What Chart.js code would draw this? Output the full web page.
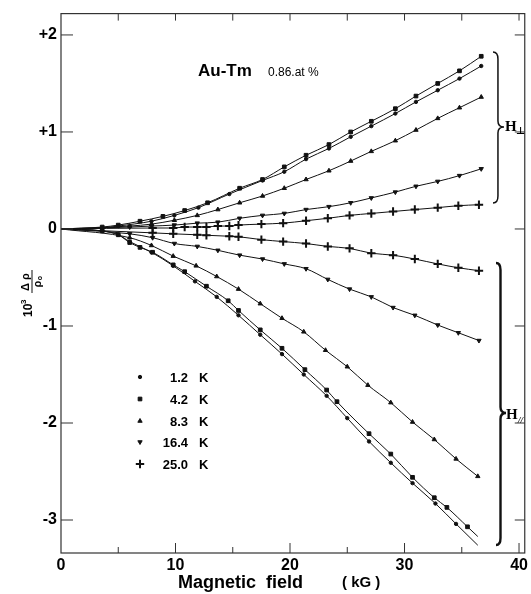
<!DOCTYPE html>
<html><head><meta charset="utf-8">
<script src="https://cdn.jsdelivr.net/npm/chart.js@4/dist/chart.umd.min.js"></script>
<style>html,body{margin:0;padding:0;background:#fff}</style>
</head><body>
<canvas id="c" width="531" height="594"></canvas>
<script>
// ---- data (field in kG, 10^3 Δρ/ρ0) ----
const temperatures = ['1.2', '4.2', '8.3', '16.4', '25.0'];
const xTickValues = [0, 10, 20, 30, 40];
const yTickValues = [-3, -2, -1, 0, 1, 2];

// H perpendicular
const perp12Field = [0, 3.6, 5.0, 7.9, 9.9, 12.0, 14.7, 17.6, 19.5, 21.4, 23.4, 25.3, 27.1, 29.2, 31.0, 32.9, 34.8, 36.7];
const perp12Rho   = [0, 0.01, 0.03, 0.08, 0.14, 0.22, 0.36, 0.50, 0.59, 0.72, 0.83, 0.95, 1.06, 1.19, 1.31, 1.43, 1.55, 1.68];
const perp42Field = [0, 3.6, 5.0, 6.9, 8.9, 10.8, 12.8, 15.6, 17.6, 19.5, 21.4, 23.4, 25.3, 27.1, 29.2, 31.0, 32.9, 34.8, 36.7];
const perp42Rho   = [0, 0.02, 0.04, 0.08, 0.13, 0.19, 0.27, 0.42, 0.51, 0.64, 0.76, 0.87, 1.00, 1.11, 1.24, 1.37, 1.50, 1.63, 1.78];
const perp83Field = [0, 6.0, 7.9, 9.9, 11.9, 13.7, 15.6, 17.6, 19.5, 21.4, 23.4, 25.3, 27.1, 29.2, 31.0, 32.9, 34.8, 36.7];
const perp83Rho   = [0, 0.03, 0.05, 0.09, 0.14, 0.20, 0.27, 0.34, 0.42, 0.51, 0.60, 0.70, 0.80, 0.91, 1.02, 1.14, 1.25, 1.36];
const perp164Field = [0, 6.0, 7.9, 9.9, 11.9, 13.7, 15.6, 17.6, 19.5, 21.4, 23.4, 25.3, 27.1, 29.2, 31.0, 32.9, 34.8, 36.7];
const perp164Rho   = [0, 0.02, 0.03, 0.04, 0.06, 0.07, 0.11, 0.14, 0.16, 0.20, 0.23, 0.27, 0.32, 0.38, 0.44, 0.49, 0.55, 0.62];
const perp250Field = [0, 8.0, 9.8, 10.8, 11.9, 12.7, 13.7, 14.7, 15.5, 17.5, 19.4, 21.4, 23.3, 25.2, 27.1, 29.0, 30.9, 32.9, 34.7, 36.5];
const perp250Rho   = [0, 0.01, 0.01, 0.02, 0.02, 0.02, 0.03, 0.03, 0.04, 0.05, 0.06, 0.085, 0.11, 0.14, 0.16, 0.18, 0.20, 0.22, 0.24, 0.25];

// H parallel
const par12Field = [0, 3.6, 5.0, 6.0, 7.9, 9.8, 11.7, 13.6, 15.5, 17.4, 19.3, 21.2, 23.2, 25.0, 26.9, 28.8, 30.7, 32.7, 34.5, 36.4];
const par12Rho   = [0, -0.02, -0.06, -0.13, -0.24, -0.38, -0.54, -0.70, -0.89, -1.09, -1.29, -1.50, -1.72, -1.95, -2.19, -2.41, -2.62, -2.83, -3.04, -3.26];
const par42Field = [0, 3.6, 5.0, 6.0, 6.9, 8.0, 9.8, 10.8, 12.7, 14.6, 15.5, 17.4, 19.3, 21.3, 23.2, 24.1, 26.9, 28.8, 30.7, 32.6, 33.7, 35.5, 36.4];
const par42Rho   = [0, -0.02, -0.06, -0.14, -0.19, -0.24, -0.37, -0.44, -0.59, -0.74, -0.84, -1.04, -1.23, -1.45, -1.66, -1.78, -2.11, -2.32, -2.56, -2.77, -2.87, -3.07, -3.17];
const par83Field = [0, 6.0, 7.9, 9.8, 11.8, 13.6, 15.5, 17.4, 19.3, 21.2, 23.1, 25.0, 26.8, 28.8, 30.7, 32.6, 34.5, 36.4];
const par83Rho   = [0, -0.09, -0.17, -0.28, -0.38, -0.49, -0.62, -0.77, -0.92, -1.06, -1.25, -1.42, -1.61, -1.79, -1.99, -2.17, -2.37, -2.55];
const par164Field = [0, 6.0, 8.0, 9.9, 11.9, 13.7, 15.6, 17.6, 19.5, 21.4, 23.3, 25.2, 27.1, 29.0, 30.9, 32.9, 34.7, 36.5];
const par164Rho   = [0, -0.05, -0.09, -0.15, -0.18, -0.22, -0.27, -0.31, -0.36, -0.41, -0.52, -0.62, -0.70, -0.81, -0.89, -0.99, -1.07, -1.15];
const par250Field = [0, 8.0, 9.8, 11.9, 12.7, 14.7, 15.5, 17.5, 19.4, 21.4, 23.3, 25.2, 27.1, 29.0, 30.9, 32.9, 34.7, 36.5];
const par250Rho   = [0, -0.04, -0.05, -0.06, -0.065, -0.075, -0.08, -0.11, -0.13, -0.15, -0.18, -0.20, -0.25, -0.27, -0.31, -0.36, -0.40, -0.43];

// ---- styles ----
const markerStyles = [
  {pointStyle: 'circle', radius: 1.7, rotation: 0, border: 1},
  {pointStyle: 'rect', radius: 2.6, rotation: 0, border: 1},
  {pointStyle: 'triangle', radius: 2.5, rotation: 0, border: 1},
  {pointStyle: 'triangle', radius: 2.5, rotation: 180, border: 1},
  {pointStyle: 'cross', radius: 4.2, rotation: 0, border: 2}
];

function zip(xs, ys) { return xs.map((x, i) => ({x: x, y: ys[i]})); }

const seriesDefs = [
  [perp12Field, perp12Rho, 0, false], [perp42Field, perp42Rho, 1, false], [perp83Field, perp83Rho, 2, false],
  [perp164Field, perp164Rho, 3, false], [perp250Field, perp250Rho, 4, false],
  [par12Field, par12Rho, 0, true], [par42Field, par42Rho, 1, true], [par83Field, par83Rho, 2, false],
  [par164Field, par164Rho, 3, false], [par250Field, par250Rho, 4, false]
];

const datasets = seriesDefs.map(([xs, ys, ti, hideLast]) => {
  const m = markerStyles[ti];
  const n = xs.length;
  return {
    label: temperatures[ti] + ' K',
    data: zip(xs, ys),
    borderColor: '#111',
    backgroundColor: '#111',
    borderWidth: 1,
    cubicInterpolationMode: 'monotone',
    pointStyle: m.pointStyle,
    pointRotation: m.rotation,
    pointBorderWidth: m.border,
    pointBorderColor: '#111',
    pointBackgroundColor: '#111',
    pointRadius: ctx => (ctx.dataIndex === 0 || (hideLast && ctx.dataIndex === n - 1)) ? 0 : m.radius,
    clip: false
  };
});

const FONT = "'Liberation Sans', Arial, sans-serif";

const decorations = {
  id: 'decorations',
  afterDraw(chart) {
    const ctx = chart.ctx;
    const a = chart.chartArea;
    const xs = chart.scales.x, ys = chart.scales.y;
    ctx.save();
    // frame
    ctx.strokeStyle = '#333';
    ctx.lineWidth = 1.2;
    ctx.strokeRect(a.left, a.top, a.right - a.left, a.bottom - a.top);
    // inner ticks
    ctx.lineWidth = 1;
    ctx.beginPath();
    for (let v = 5; v <= 40; v += 5) {
      const px = xs.getPixelForValue(v);
      const len = v % 10 === 0 ? 10 : 6;
      ctx.moveTo(px, a.bottom); ctx.lineTo(px, a.bottom - len);
      ctx.moveTo(px, a.top); ctx.lineTo(px, a.top + 7);
    }
    yTickValues.forEach(v => {
      const py = ys.getPixelForValue(v);
      ctx.moveTo(a.left, py); ctx.lineTo(a.left + 12, py);
      ctx.moveTo(a.right, py); ctx.lineTo(a.right - 10, py);
    });
    ctx.stroke();

    ctx.fillStyle = '#000';
    ctx.textBaseline = 'alphabetic';
    // title annotation
    ctx.font = "bold 17px " + FONT;
    ctx.textAlign = 'left';
    ctx.fillText('Au-Tm', 198, 76);
    ctx.font = "12px " + FONT;
    ctx.fillText('0.86.at %', 268, 76);

    // legend
    const rows = [377, 399, 421, 442, 464];
    rows.forEach((ry, i) => {
      const m = markerStyles[i];
      ctx.lineWidth = m.border;
      ctx.strokeStyle = '#111';
      ctx.fillStyle = '#111';
      Chart.helpers.drawPoint(ctx, {pointStyle: m.pointStyle, radius: m.radius, rotation: m.rotation, borderWidth: m.border}, 140, ry);
      ctx.fillStyle = '#000';
      ctx.font = "bold 13px " + FONT;
      ctx.textAlign = 'right';
      ctx.fillText(temperatures[i], 188, ry + 5);
      ctx.textAlign = 'left';
      ctx.fillText('K', 199, ry + 5);
    });

    // braces
    function brace(x0, top, bottom, tipY, w, lw) {
      ctx.beginPath();
      ctx.lineWidth = lw;
      ctx.strokeStyle = '#111';
      const xm = x0 + w * 0.45, xt = x0 + w;
      ctx.moveTo(x0, top);
      ctx.quadraticCurveTo(xm, top, xm, top + 7);
      ctx.lineTo(xm, tipY - 6);
      ctx.quadraticCurveTo(xm, tipY, xt, tipY);
      ctx.quadraticCurveTo(xm, tipY, xm, tipY + 6);
      ctx.lineTo(xm, bottom - 7);
      ctx.quadraticCurveTo(xm, bottom, x0, bottom);
      ctx.stroke();
    }
    brace(493, 52, 203, 127, 11, 1.5);
    brace(496, 263, 545, 413, 10, 2.4);

    ctx.fillStyle = '#000';
    ctx.textAlign = 'left';
    ctx.font = "bold 15px 'Liberation Serif', serif";
    ctx.fillText('H', 505, 131);
    ctx.font = "bold 10px 'DejaVu Sans', sans-serif";
    ctx.fillText('\u22A5', 516, 134);
    ctx.font = "bold 15px 'Liberation Serif', serif";
    ctx.fillText('H', 506, 419);
    ctx.font = "italic bold 9px 'Liberation Serif', serif";
    ctx.fillText('//', 518, 423);

    // x axis title
    ctx.font = "bold 18px " + FONT;
    ctx.textAlign = 'left';
    ctx.fillText('Magnetic', 178, 588);
    ctx.fillText('field', 266, 588);
    ctx.font = "bold 15px " + FONT;
    ctx.fillText('( kG )', 342, 587);

    // y axis title (rotated)
    ctx.translate(30, 285);
    ctx.rotate(-Math.PI / 2);
    ctx.font = "bold 12px " + FONT;
    ctx.textAlign = 'left';
    ctx.fillText('10', -32, 2);
    ctx.font = "bold 8px " + FONT;
    ctx.fillText('3', -19, -4);
    ctx.font = "bold 11px " + FONT;
    ctx.textAlign = 'center';
    ctx.fillText('\u0394 \u03C1', 3, -1);
    ctx.lineWidth = 1;
    ctx.beginPath(); ctx.moveTo(-8, 2); ctx.lineTo(15, 2); ctx.stroke();
    ctx.fillText('\u03C1', 1, 11);
    ctx.font = "bold 7px " + FONT;
    ctx.fillText('o', 7, 12);
    ctx.restore();
  }
};

new Chart(document.getElementById('c'), {
  type: 'line',
  data: {datasets: datasets},
  options: {
    responsive: false,
    animation: false,
    devicePixelRatio: 1,
    layout: {padding: {left: 0, right: 4, top: 8, bottom: 0}},
    plugins: {legend: {display: false}, tooltip: {enabled: false}},
    scales: {
      x: {
        type: 'linear', min: 0, max: 40.5,
        afterBuildTicks: s => { s.ticks = xTickValues.map(v => ({value: v})); },
        afterFit: s => { s.height = 41; },
        grid: {display: false, drawTicks: false},
        border: {display: false},
        ticks: {color: '#000', padding: 3, maxRotation: 0, autoSkip: false,
                font: {family: FONT, weight: 'bold', size: 16}}
      },
      y: {
        type: 'linear', min: -3.34, max: 2.22,
        afterBuildTicks: s => { s.ticks = yTickValues.map(v => ({value: v})); },
        afterFit: s => { s.width = 61; },
        grid: {display: false, drawTicks: false},
        border: {display: false},
        ticks: {color: '#000', padding: 4, autoSkip: false,
                font: {family: FONT, weight: 'bold', size: 16},
                callback: v => v > 0 ? '+' + v : (v < 0 ? '-' + Math.abs(v) : '0')}
      }
    }
  },
  plugins: [decorations]
});
</script>
</body></html>
